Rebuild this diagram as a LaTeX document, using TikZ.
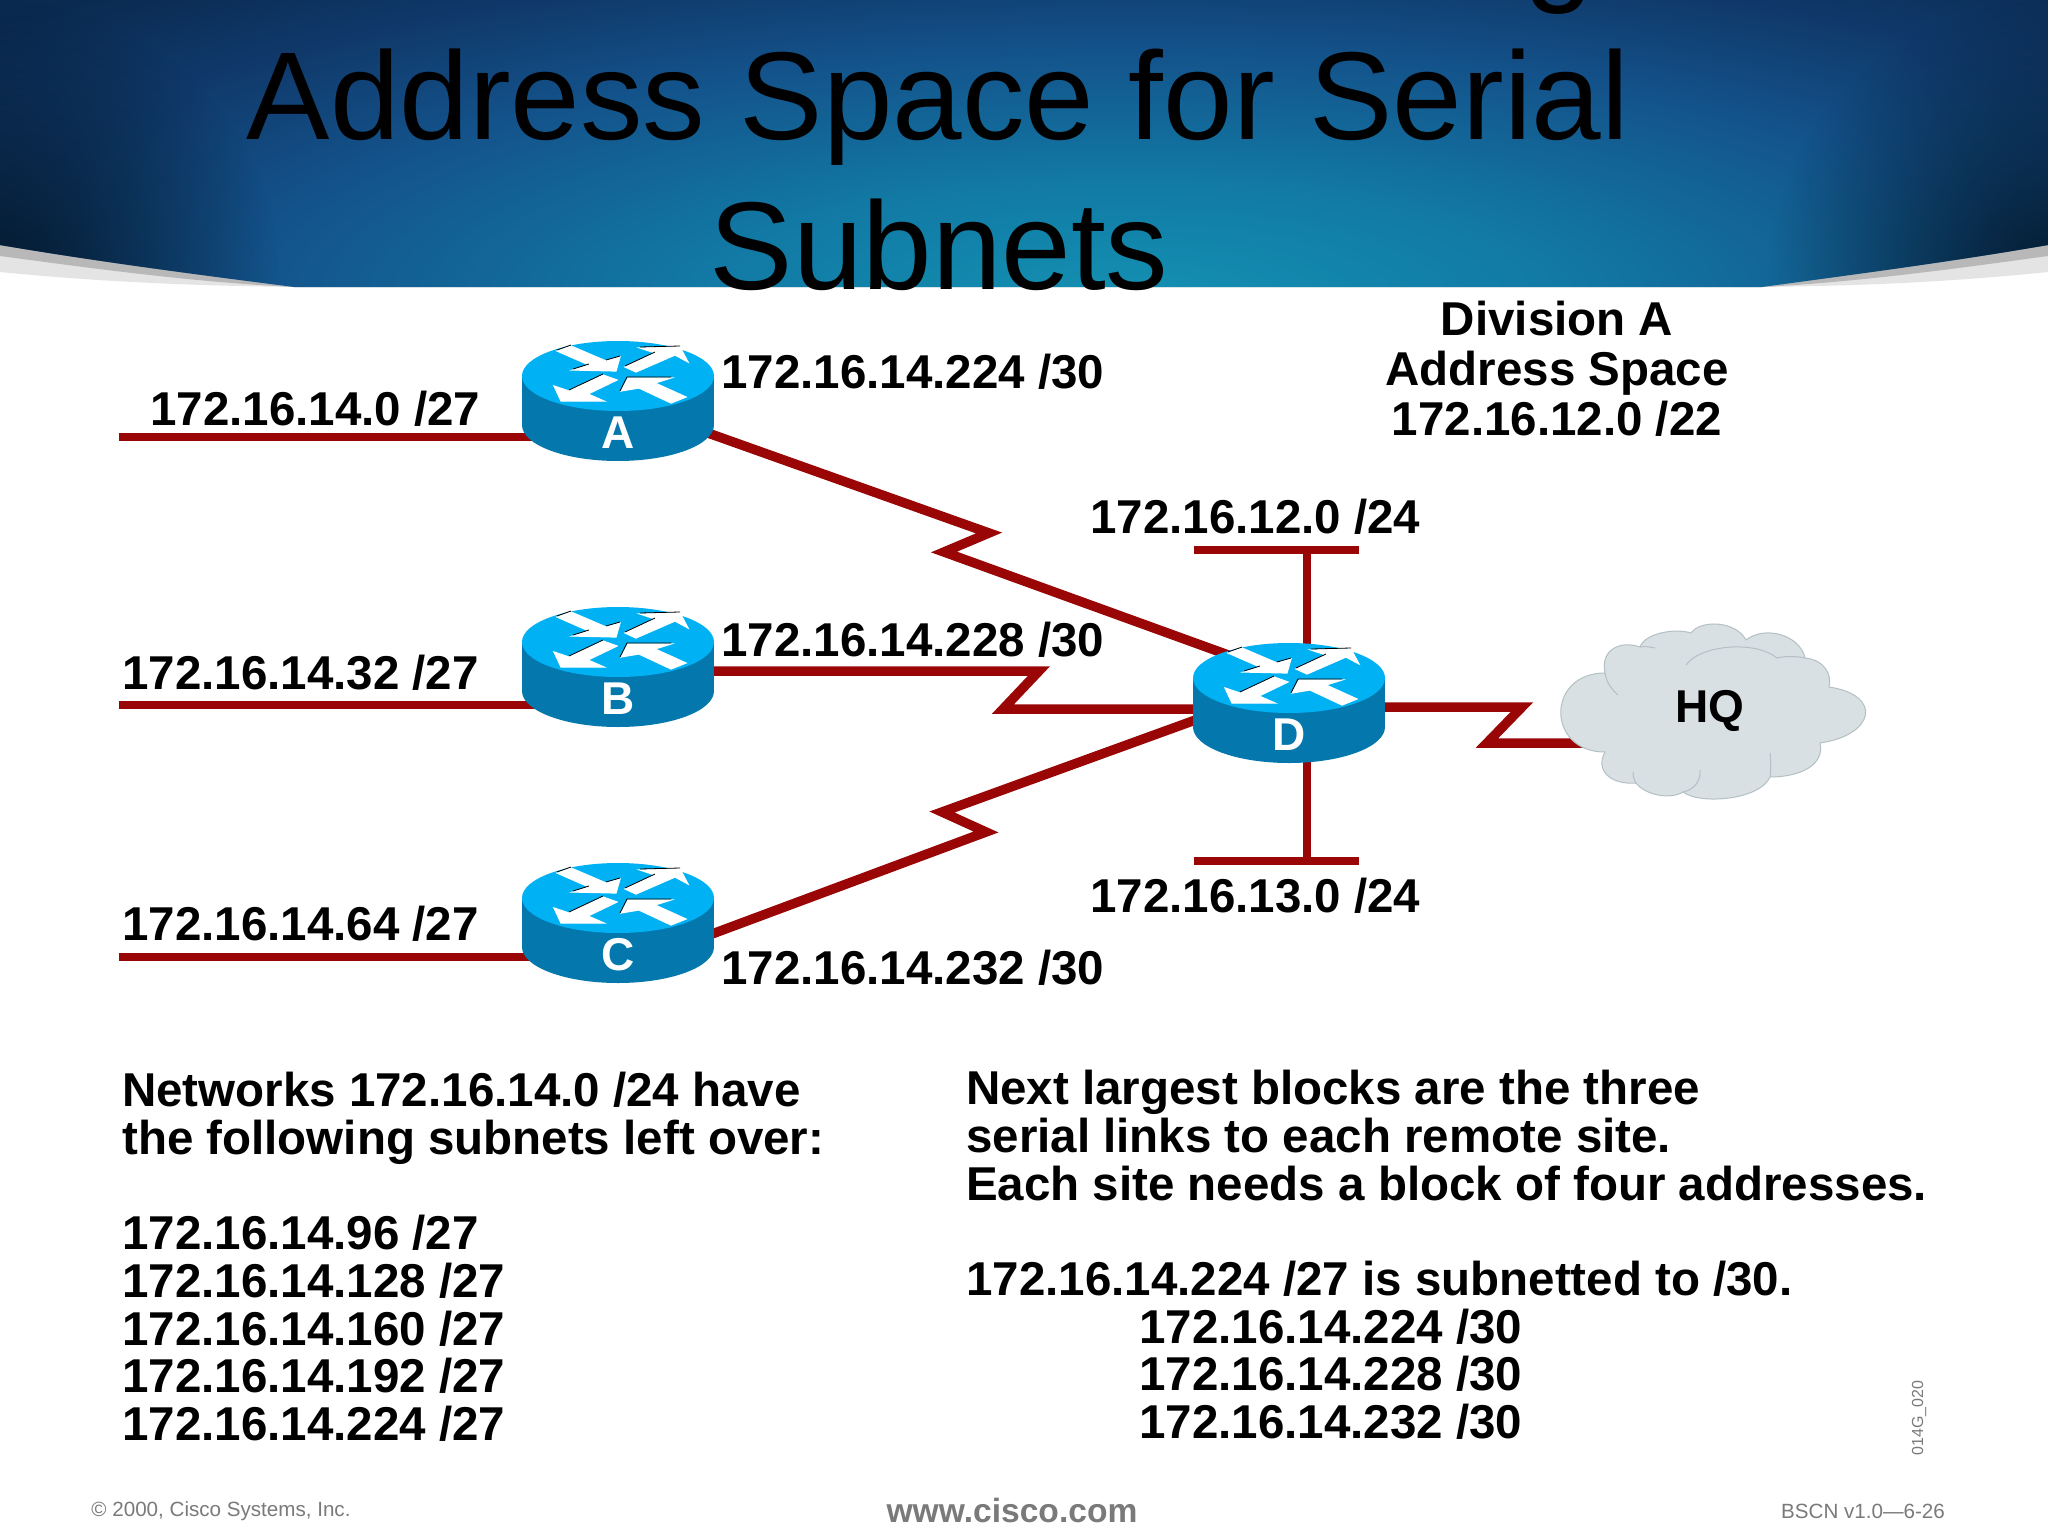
\documentclass[tikz,border=0pt]{standalone}
\usepackage{fontspec}
\setmainfont{Liberation Sans}
\usetikzlibrary{positioning,backgrounds,fadings}

\definecolor{linkred}{HTML}{9A0505}
\definecolor{routertop}{HTML}{00B2F4}
\definecolor{routerside}{HTML}{0478AC}
\definecolor{cloudfill}{HTML}{D9E0E3}
\definecolor{cloudline}{HTML}{B4C0C4}
\definecolor{footgray}{HTML}{7A7A7A}
\definecolor{bandgray}{HTML}{B8B8B8}
\definecolor{bandpale}{HTML}{E4E4E4}
\definecolor{hdrA}{HTML}{1391B2}
\definecolor{hdrB}{HTML}{127AA5}
\definecolor{hdrC}{HTML}{13528A}
\definecolor{hdrD}{HTML}{103A6C}
\definecolor{hdrE}{HTML}{0A2A50}
\definecolor{hdrF}{HTML}{031526}
\pgfdeclareradialshading{headershade}{\pgfpoint{0bp}{0bp}}{color(0bp)=(hdrA);color(7bp)=(hdrB);color(15bp)=(hdrC);color(20bp)=(hdrD);color(25bp)=(hdrE);color(50bp)=(hdrE)}
\tikzfading[name=cornerfade,inner color=transparent!10,outer color=transparent!100]

\tikzset{
  routerbox/.style={minimum width=192pt,minimum height=120pt,inner sep=0pt,outer sep=0pt},
  routerlabel/.style={text=white,font=\fontsize{46}{46}\selectfont\bfseries,inner sep=0pt},
  routerarrow/.style={fill=white,draw=white,line width=1.2pt},
  link/.style={draw=linkred,line width=8.5pt},
  serial/.style={draw=linkred,line width=9.5pt},
  addr/.style={anchor=base west,inner sep=0pt,font=\fontsize{47.5}{50}\selectfont\bfseries},
  block/.style={anchor=west,inner sep=0pt,align=left,font=\fontsize{47.5}{47.7}\selectfont\bfseries},
  foot/.style={text=footgray,inner sep=0pt,font=\fontsize{20.6}{21}\selectfont},
  title/.style={anchor=base,inner sep=0pt,font=\fontsize{125}{130}\selectfont}
}

\begin{document}
\begin{tikzpicture}[x=1pt,y=-1pt]
  \useasboundingbox (0,0) rectangle (2048,1536);

  % header
  \fill[bandpale] (0,245) -- (0,272) .. controls (100,282) and (200,286) .. (300,287) -- (1756,287) .. controls (1860,286) and (1950,282) .. (2048,272) -- (2048,245) -- cycle;
  \fill[bandgray] (0,245) -- (0,256) .. controls (90,268) and (190,282) .. (294,287) -- (1762,287) .. controls (1860,282) and (1960,268) .. (2048,256) -- (2048,245) -- cycle;
  \begin{scope}
    \clip (0,0) -- (2048,0) -- (2048,245) .. controls (1950,262) and (1850,275) .. (1762,287) -- (294,287) .. controls (200,275) and (100,262) .. (0,245) -- cycle;
    \shade[shading=headershade] (-370,-120) rectangle (2630,720);
    \fill[hdrF,path fading=cornerfade] (0,280) circle (280);
    \fill[hdrF,path fading=cornerfade] (2048,280) circle (280);
  \end{scope}
  \node[title] (titleg) at (1559,-11) {g};
  \node[title] (title1) at (938,140) {Address Space for Serial};
  \node[title] (title2) at (939,289) {Subnets};

  % routers
  \node[routerbox] (A) at (618,401) {};
  \node[routerbox] (B) [below=146pt of A] {};
  \node[routerbox] (C) [below=136pt of B] {};
  \node[routerbox] (D) at (1289,703) {};

  % cloud
  \draw[fill=cloudfill,draw=cloudline,line width=1pt]
    (1605,752) .. controls (1546,752) and (1546,673) .. (1605,673)
    .. controls (1600,650) and (1620,640) .. (1640,647)
    .. controls (1645,633) and (1675,628) .. (1691,633)
    .. controls (1700,620) and (1735,620) .. (1746,640)
    .. controls (1765,625) and (1800,635) .. (1805,658)
    .. controls (1825,660) and (1832,675) .. (1829,687)
    .. controls (1883,695) and (1875,735) .. (1820,743)
    .. controls (1825,765) and (1800,777) .. (1770,777)
    .. controls (1760,800) and (1700,805) .. (1683,792)
    .. controls (1670,800) and (1645,795) .. (1636,783)
    .. controls (1610,785) and (1595,770) .. (1605,752) -- cycle;
  \draw[draw=cloudline,line width=1pt]
    (1605,673) .. controls (1606,682) and (1612,690) .. (1618,695)
    (1640,647) .. controls (1645,646) and (1650,647) .. (1655,648)
    (1686,665) .. controls (1700,645) and (1755,640) .. (1777,658) .. controls (1785,656) and (1795,656) .. (1805,658)
    (1770,753) .. controls (1771,762) and (1771,770) .. (1770,777)
    (1700,770) .. controls (1701,782) and (1693,790) .. (1683,792)
    (1633,772) .. controls (1633,776) and (1634,780) .. (1636,783);
  \node[inner sep=0pt,font=\fontsize{46}{46}\selectfont\bfseries] (HQ) at (1710,711) {HQ};

  % connector ends
  \coordinate (lanA) at (119,437);
  \coordinate (lanB) at (119,705);
  \coordinate (lanC) at (119,957);
  \coordinate (lan12) at (1307,550);
  \coordinate (lan12l) at (1194,550);
  \coordinate (lan12r) at (1359,550);
  \coordinate (lan13) at (1307,861);
  \coordinate (lan13l) at (1194,861);
  \coordinate (lan13r) at (1359,861);
  \coordinate (az1) at (989,533);
  \coordinate (az2) at (944,552);
  \coordinate (bz1) at (1039,671);
  \coordinate (bz2) at (1003,709);
  \coordinate (cz1) at (986,832);
  \coordinate (cz2) at (942,812);
  \coordinate (hz1) at (1522,707);
  \coordinate (hz2) at (1487,743);

  \begin{pgfonlayer}{background}
    \fill[white] (0,0) rectangle (2048,1536);
    \draw[link] (lanA) -- (lanA -| A.center);
    \draw[link] (lanB) -- (lanB -| B.center);
    \draw[link] (lanC) -- (lanC -| C.center);
    \draw[serial] (A.center) -- (az1) -- (az2) -- ([yshift=26pt]D.center);
    \draw[serial] (bz1 -| B.center) -- (bz1) -- (bz2) -- (bz2 -| D.center);
    \draw[serial] ([yshift=-46pt]C.center) -- (cz1) -- (cz2) -- ([yshift=17pt]D.center);
    \draw[serial] (hz1 -| D.center) -- (hz1) -- (hz2) -- (hz2 -| HQ.center);
    \draw[link] (lan12l) -- (lan12r);
    \draw[link] (lan12) -- (lan12 |- D.center);
    \draw[link] (lan13l) -- (lan13r);
    \draw[link] (lan13) -- (lan13 |- D.center);
  \end{pgfonlayer}

  \foreach \rname in {A,B,C,D} {
    \begin{scope}[shift={(\rname.center)}]
      \fill[routerside] (-96,-25) rectangle (96,24);
      \fill[routerside] (0,24) ellipse (96 and 36);
      \fill[routertop] (0,-25) ellipse (96 and 35);
      \begin{scope}[shift={(0,-25)}]
        \path[routerarrow] (-61,-25) -- (-47,-30) -- (-12,-15) -- (2,-19) -- (-2,-5) -- (-45,-6) -- (-29,-11) -- cycle;
        \path[routerarrow] (7,-9) -- (37,-23) -- (22,-28) -- (62,-29) -- (70,-14) -- (57,-21) -- (18,-4) -- cycle;
        \path[routerarrow] (-1,4) -- (-30,18) -- (-14,25) -- (-57,25) -- (-64,10) -- (-49,15) -- (-15,-1) -- cycle;
        \path[routerarrow] (3,15) -- (10,2) -- (53,2) -- (37,7) -- (68,21) -- (53,27) -- (21,12) -- cycle;
        \draw[black,line width=.8pt] (-61,-26) -- (-47,-31) (-12,-16) -- (2,-20) (-45,-7) -- (-29,-12);
        \draw[black,line width=.8pt] (7,-10) -- (37,-24) (22,-29) -- (62,-30);
        \draw[black,line width=.8pt] (-49,14) -- (-15,-2);
        \draw[black,line width=.8pt] (2,15) -- (9,1) -- (53,1);
      \end{scope}
      \node[routerlabel] (lbl\rname) at (0,32) {\rname};
    \end{scope}
  }

  % addresses
  \node[addr] (netA) at (150,425) {172.16.14.0 /27};
  \node[addr] (netB) at (122,689) {172.16.14.32 /27};
  \node[addr] (netC) at (122,940) {172.16.14.64 /27};
  \node[addr] (serA) at (721,388) {172.16.14.224 /30};
  \node[addr] (serB) at (721,656) {172.16.14.228 /30};
  \node[addr] (serC) at (721,984) {172.16.14.232 /30};
  \node[addr] (net12) at (1090,533) {172.16.12.0 /24};
  \node[addr] (net13) at (1090,912) {172.16.13.0 /24};
  \node[addr,anchor=center,align=center] (division) at (1557,369) {Division A\\Address Space\\172.16.12.0 /22};

  \node[block] (leftover) at (122,1257) {Networks 172.16.14.0 /24 have\\the following subnets left over:\\ ~\\172.16.14.96 /27\\172.16.14.128 /27\\172.16.14.160 /27\\172.16.14.192 /27\\172.16.14.224 /27};
  \node[block] (nextblock) at (966,1255) {Next largest blocks are the three\\serial links to each remote site.\\Each site needs a block of four addresses.\\ ~\\172.16.14.224 /27 is subnetted to /30.\\\hspace*{173pt}172.16.14.224 /30\\\hspace*{173pt}172.16.14.228 /30\\\hspace*{173pt}172.16.14.232 /30};

  % footer
  \node[foot,rotate=90,font=\fontsize{16}{16}\selectfont] (figid) at (1919,1418) {014G\_020};
  \node[foot] (copyr) at (221,1511) {© 2000, Cisco Systems, Inc.};
  \node[foot,font=\fontsize{33.6}{34}\selectfont\bfseries] (www) at (1012,1510) {www.cisco.com};
  \node[foot] (bscn) at (1863,1511) {BSCN v1.0—6-26};
\end{tikzpicture}
\end{document}
